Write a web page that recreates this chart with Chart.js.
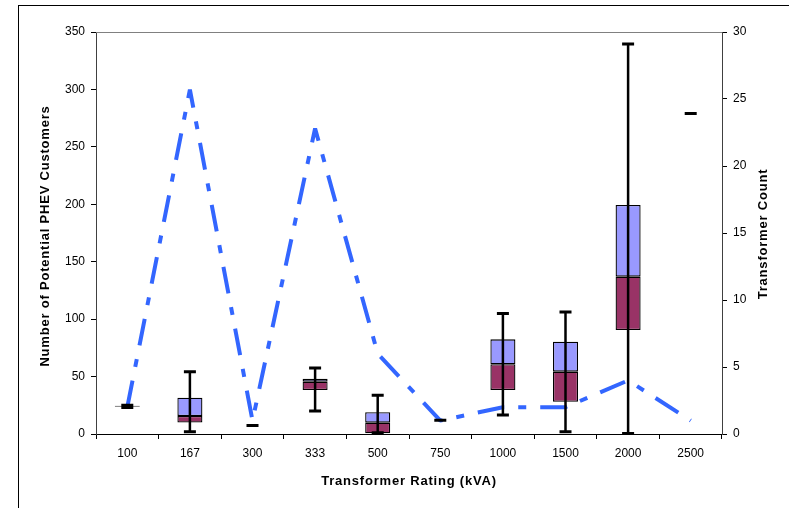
<!DOCTYPE html>
<html>
<head>
<meta charset="utf-8">
<script src="https://cdn.jsdelivr.net/npm/chart.js@4"></script>
<style>
  html, body { margin: 0; padding: 0; background: #fff; }
  #wrap { position: relative; width: 789px; height: 508px; overflow: hidden; }
  #frame { position: absolute; left: 18px; top: 5px; width: 800px; height: 520px;
           border-top: 1px solid #000; border-left: 1px solid #000; }
  #chart { position: absolute; left: 0; top: 0; }
</style>
</head>
<body>
<div id="wrap">
  <div id="frame"></div>
  <canvas id="chart" width="789" height="508"></canvas>
</div>
<script>
// transformer ratings (kVA) on the category axis
const ratings = ['100', '167', '300', '333', '500', '750', '1000', '1500', '2000', '2500'];

// box plot of potential PHEV customers per transformer (left axis)
const whiskerMin = [23, 2, 7.5, 20, 1, 12, 16.5, 2, 0.5, 279];
const q1         = [23.5, 10, null, 38.3, 0.6, null, 38.3, 28, 90.5, null];
const median     = [24, 15.7, null, 45.6, 9.9, null, 60.7, 54.3, 137, null];
const q3         = [24.5, 31.6, null, 48.2, 18.9, null, 82.4, 80.4, 199.4, null];
const whiskerMax = [25, 54.3, 7.5, 57.5, 33.7, 12, 105, 106.2, 339.6, 279];

// number of transformers per rating (right axis)
const transformerCount = [2, 25.7, 1, 22.8, 6, 1, 2, 2, 4, 1];

const FONT = '"Liberation Sans", Arial, Helvetica, sans-serif';
Chart.defaults.font.family = FONT;
Chart.defaults.font.size = 12;
Chart.defaults.color = '#000';

const lowerBox = ratings.map((_, i) => q1[i] == null ? null : [q1[i], median[i]]);
const upperBox = ratings.map((_, i) => q3[i] == null ? null : [median[i], q3[i]]);

// whiskers + caps on top of everything
const whiskerPlugin = {
  id: 'whiskers',
  afterDatasetsDraw(chart) {
    const { ctx, scales: { x, y } } = chart;
    ctx.save();
    ctx.strokeStyle = '#000';
    ratings.forEach((r, i) => {
      const px = x.getPixelForValue(i);
      const yLo = y.getPixelForValue(whiskerMin[i]);
      const yHi = y.getPixelForValue(whiskerMax[i]);
      ctx.lineWidth = 2.5;
      ctx.beginPath();
      ctx.moveTo(px, yLo);
      ctx.lineTo(px, yHi);
      ctx.stroke();
      ctx.lineWidth = 3;
      ctx.beginPath();
      ctx.moveTo(px - 6, yLo); ctx.lineTo(px + 6, yLo);
      ctx.moveTo(px - 6, yHi); ctx.lineTo(px + 6, yHi);
      ctx.stroke();
    });
    ctx.restore();
  }
};

// plot-area top edge and the axis titles (letter spaced, right one reads upward)
const framePlugin = {
  id: 'frameTitles',
  afterDraw(chart) {
    const { ctx, chartArea: a } = chart;
    ctx.save();
    ctx.strokeStyle = '#808080';
    ctx.lineWidth = 1;
    ctx.beginPath();
    ctx.moveTo(a.left, a.top + 0.5);
    ctx.lineTo(a.right, a.top + 0.5);
    ctx.stroke();

    ctx.fillStyle = '#000';
    ctx.font = 'bold 13px ' + FONT;
    if ('letterSpacing' in ctx) ctx.letterSpacing = '0.8px';
    ctx.textAlign = 'center';
    ctx.textBaseline = 'middle';
    ctx.fillText('Transformer Rating (kVA)', (a.left + a.right) / 2, 481);

    ctx.save();
    ctx.translate(45, 236);
    ctx.rotate(-Math.PI / 2);
    ctx.fillText('Number of Potential PHEV Customers', 0, 0);
    ctx.restore();

    ctx.save();
    ctx.translate(763, 234);
    ctx.rotate(-Math.PI / 2);
    ctx.fillText('Transformer Count', 0, 0);
    ctx.restore();
    ctx.restore();
  }
};

const axisGrid = { drawOnChartArea: false, drawTicks: true, tickLength: 5, color: '#000' };

new Chart(document.getElementById('chart').getContext('2d'), {
  type: 'bar',
  data: {
    labels: ratings,
    datasets: [
      {
        type: 'line',
        label: 'Transformer Count',
        data: transformerCount,
        yAxisID: 'y1',
        borderColor: '#3366FF',
        borderWidth: 4,
        borderDash: [27, 14, 8, 14],
        borderCapStyle: 'butt',
        borderJoinStyle: 'bevel',
        pointRadius: 0,
        fill: false,
        tension: 0,
        order: 0
      },
      {
        label: 'Q1 - Median',
        data: lowerBox,
        yAxisID: 'y',
        backgroundColor: '#993366',
        borderColor: '#000',
        borderWidth: 1.3,
        borderSkipped: false,
        grouped: false,
        barPercentage: 0.4,
        categoryPercentage: 1,
        order: 2
      },
      {
        label: 'Median - Q3',
        data: upperBox,
        yAxisID: 'y',
        backgroundColor: '#9999FF',
        borderColor: '#000',
        borderWidth: 1.3,
        borderSkipped: false,
        grouped: false,
        barPercentage: 0.4,
        categoryPercentage: 1,
        order: 1
      }
    ]
  },
  options: {
    responsive: false,
    animation: false,
    layout: { padding: { top: 32, left: 0, right: 0, bottom: 0 } },
    plugins: { legend: { display: false }, tooltip: { enabled: false } },
    scales: {
      x: {
        offset: true,
        grid: Object.assign({ offset: true }, axisGrid),
        border: { color: '#000', width: 1 },
        ticks: { padding: 7, maxRotation: 0, autoSkip: false, font: { size: 12 } },
        afterFit: s => { s.height = 74; }
      },
      y: {
        position: 'left',
        min: 0, max: 350,
        grid: axisGrid,
        border: { color: '#404040', width: 1 },
        ticks: { stepSize: 50, padding: 6, font: { size: 12 } },
        afterFit: s => { s.width = 96; }
      },
      y1: {
        position: 'right',
        min: 0, max: 30,
        grid: axisGrid,
        border: { color: '#404040', width: 1 },
        ticks: { stepSize: 5, padding: 6, font: { size: 12 } },
        afterFit: s => { s.width = 67; }
      }
    }
  },
  plugins: [whiskerPlugin, framePlugin]
});
</script>
</body>
</html>
